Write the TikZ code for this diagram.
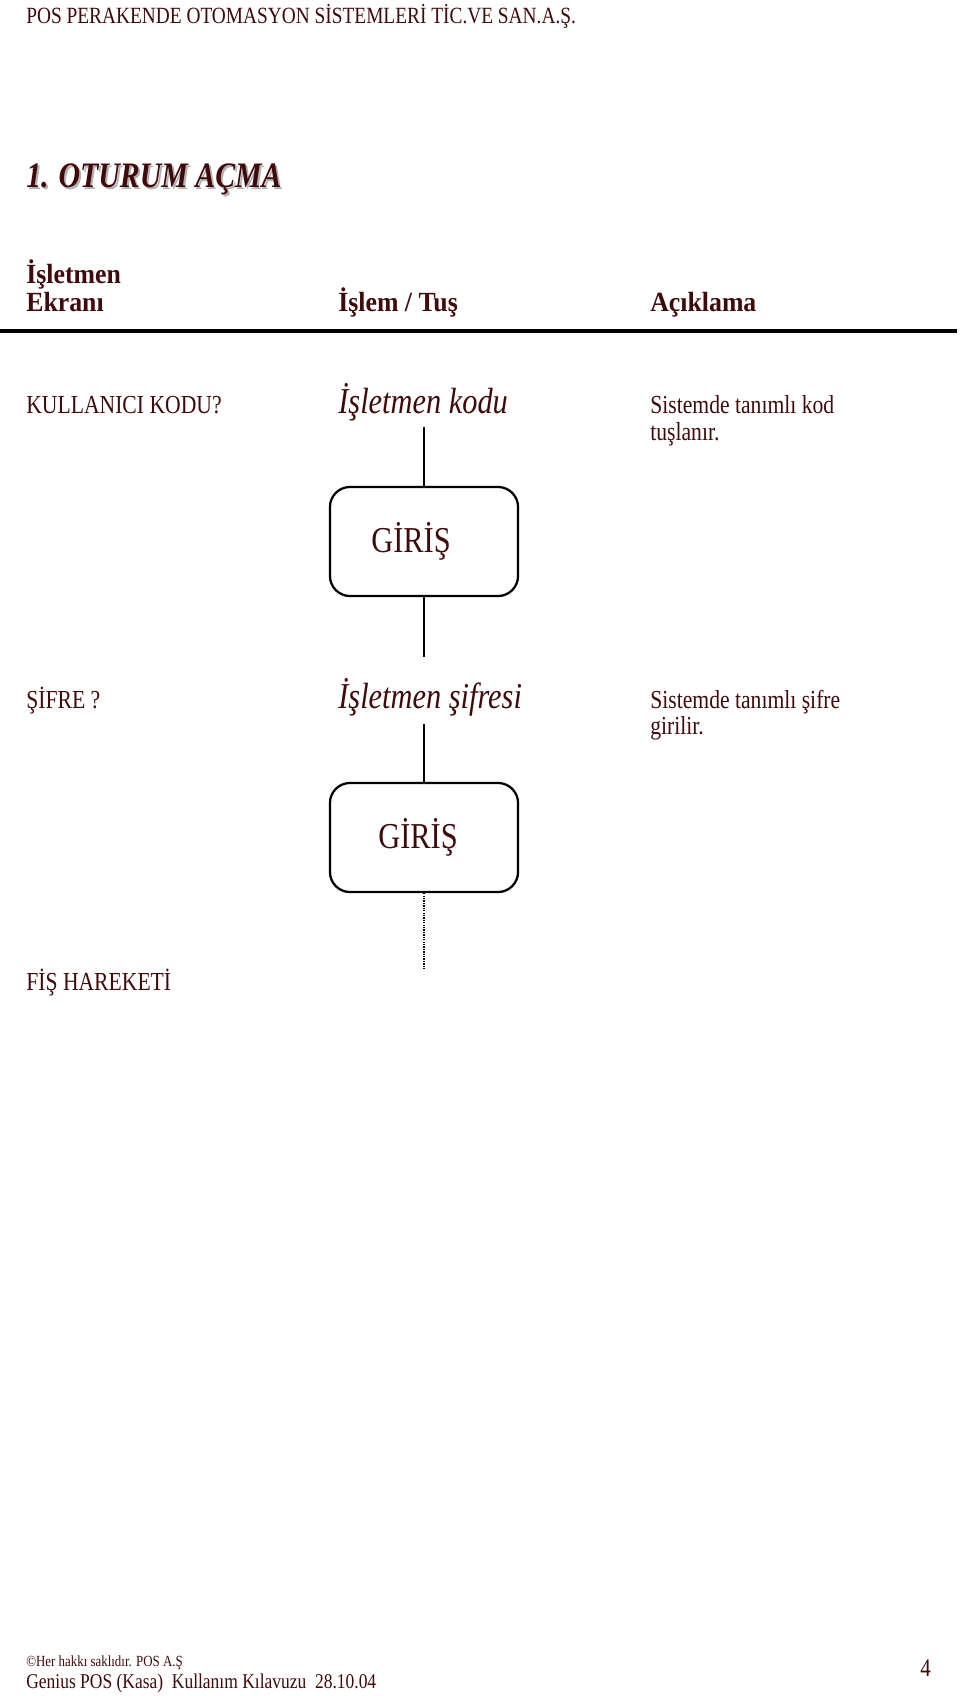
\documentclass[tikz,border=0pt]{standalone}
\usepackage{fontspec}
\setmainfont{Liberation Serif}[FakeStretch=0.8333]
\newfontfamily\colfam{Liberation Serif}[FakeStretch=0.93]
\definecolor{txt}{RGB}{64,10,10}
\newcommand\fsz[1]{\fontsize{#1}{#1}\selectfont}
\begin{document}
\begin{tikzpicture}[x=0.62pt,y=-0.62pt,
  txtn/.style={anchor=base west, inner sep=0pt, text=txt},
  hdrfont/.style={font=\fsz{14.4}},
  titlefont/.style={font=\fsz{22.2}\bfseries\itshape},
  colfont/.style={font=\colfam\fsz{17.2}\bfseries},
  bodyfont/.style={font=\fsz{16.1}},
  keyfont/.style={font=\fsz{22.6}\itshape},
  box/.style={draw=black, line width=1.4pt, rounded corners=12.4pt, minimum width=116.6pt, minimum height=67.6pt, inner sep=0pt},
  boxtext/.style={inner sep=0pt, text=txt, font=\fsz{22.6}},
  conn/.style={draw=black, line width=1.2pt},
  dotconn/.style={draw=black, line width=1.2pt, dash pattern=on 0.8pt off 0.7pt}]
\useasboundingbox (0,0) rectangle (960,1696);
% header
\node[txtn,hdrfont] (hdr) at (26,24) {POS PERAKENDE OTOMASYON SİSTEMLERİ TİC.VE SAN.A.Ş.};
% title with shadow
\node[txtn,titlefont,text=black!30] (titleshadow) at (28,190) {1. OTURUM AÇMA};
\node[txtn,titlefont] (title) at (26,188) {1. OTURUM AÇMA};
% column headers
\node[txtn,colfont] (colA1) at (26,284) {İşletmen};
\node[txtn,colfont] (colA2) at (26,311) {Ekranı};
\node[txtn,colfont] (colB) at (338,311) {İşlem / Tuş};
\node[txtn,colfont] (colC) at (650,311) {Açıklama};
\draw[line width=2.4pt] (0,331) -- (957,331);
% row 1
\node[txtn,bodyfont] (r1a) at (26,413) {KULLANICI KODU?};
\node[txtn,keyfont] (r1b) at (338,413) {İşletmen kodu};
\node[txtn,bodyfont] (r1c) at (650,413) {Sistemde tanımlı kod};
\node[txtn,bodyfont] (r1d) at (650,440) {tuşlanır.};
\coordinate (c1) at (424,427);
\node[box] (g1) at (424,541.5) {};
\node[boxtext] (g1t) at (411,541.5) {GİRİŞ};
\coordinate (c2) at (424,657);
\draw[conn] (c1) -- (g1.north);
\draw[conn] (g1.south) -- (c2);
% row 2
\node[txtn,bodyfont] (r2a) at (26,708) {ŞİFRE ?};
\node[txtn,keyfont] (r2b) at (338,708) {İşletmen şifresi};
\node[txtn,bodyfont] (r2c) at (650,708) {Sistemde tanımlı şifre};
\node[txtn,bodyfont] (r2d) at (650,734) {girilir.};
\coordinate (c3) at (424,724);
\node[box] (g2) at (424,837.5) {};
\node[boxtext] (g2t) at (418,837.5) {GİRİŞ};
\coordinate (c4) at (424,970);
\draw[conn] (c3) -- (g2.north);
\draw[dotconn] (g2.south) -- (c4);
% row 3
\node[txtn,bodyfont] (r3a) at (26,990) {FİŞ HAREKETİ};
% footer
\node[txtn,font=\fsz{9.6}] (ft1) at (26,1666) {©Her hakkı saklıdır. POS A.Ş};
\node[txtn,font=\fsz{13}] (ft2) at (26,1688) {Genius POS (Kasa)\ \ Kullanım Kılavuzu\ \ 28.10.04};
\node[txtn,font=\fsz{15.6}] (pg) at (920,1676) {4};
\end{tikzpicture}
\end{document}
